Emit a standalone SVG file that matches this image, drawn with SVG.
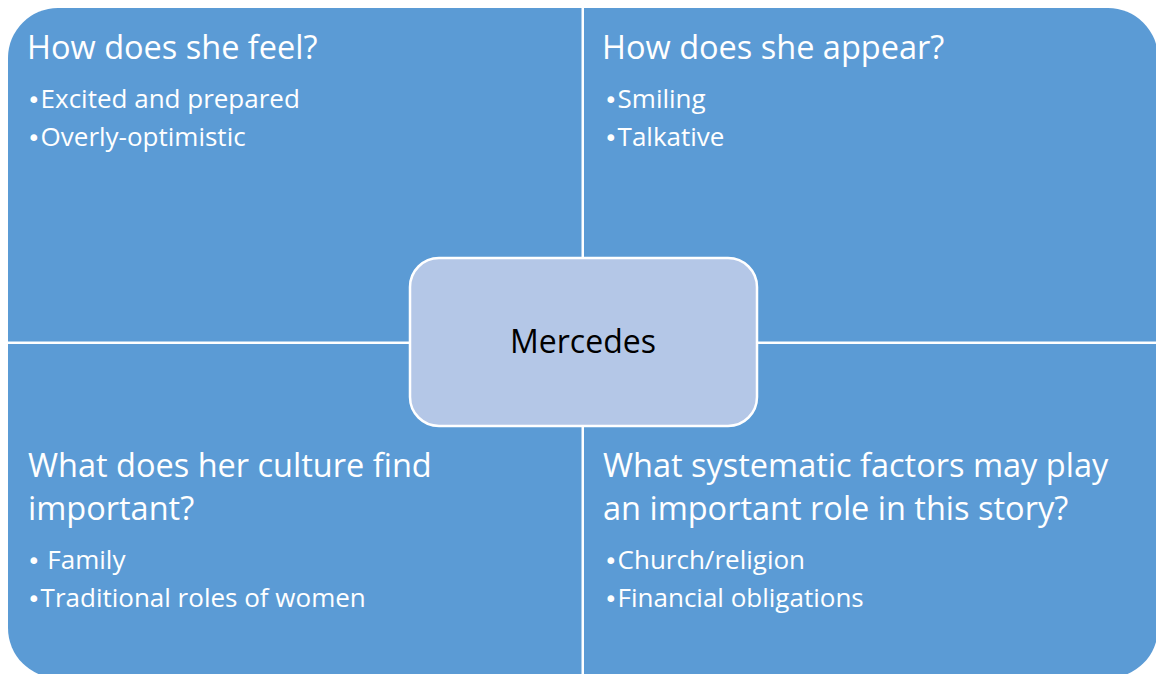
<svg xmlns="http://www.w3.org/2000/svg" width="1156" height="674" viewBox="0 0 1156 674">
  <defs>
    <!-- outer rounded outline shared by the four quadrants -->
    <clipPath id="outline">
      <rect x="8" y="8" width="1150" height="670" rx="50" ry="50"/>
    </clipPath>
    <style>
      .quad { fill: #5b9bd5; }
      .head { font-family: "Open Sans", "Liberation Sans", sans-serif; font-size: 32.5px; fill: #ffffff; }
      .item { font-family: "Open Sans", "Liberation Sans", sans-serif; font-size: 26px; fill: #ffffff; }
      .dot { font-family: "DejaVu Sans", sans-serif; font-size: 23px; }
      .hub { fill: #b4c7e7; stroke: #ffffff; stroke-width: 2.5; }
      .hub-label { font-family: "Open Sans", "Liberation Sans", sans-serif; font-size: 32px; fill: #000000; text-anchor: middle; }
    </style>
  </defs>

  <rect x="0" y="0" width="1156" height="674" fill="#ffffff"/>

  <g clip-path="url(#outline)">
    <g id="feel">
      <rect class="quad" x="8" y="8" width="573.5" height="333.5"/>
      <text class="head" x="27" y="59">How does she feel?</text>
      <text class="item" x="27" y="108"><tspan class="dot">•</tspan>Excited and prepared</text>
      <text class="item" x="27" y="146"><tspan class="dot">•</tspan>Overly-optimistic</text>
    </g>

    <g id="appear">
      <rect class="quad" x="584" y="8" width="574" height="333.5"/>
      <text class="head" x="602" y="59">How does she appear?</text>
      <text class="item" x="604" y="108"><tspan class="dot">•</tspan>Smiling</text>
      <text class="item" x="604" y="146"><tspan class="dot">•</tspan>Talkative</text>
    </g>

    <g id="culture">
      <rect class="quad" x="8" y="344" width="573.5" height="334"/>
      <text class="head" x="28" y="477">What does her culture find</text>
      <text class="head" x="28" y="520">important?</text>
      <text class="item" x="27" y="569"><tspan class="dot">•</tspan> Family</text>
      <text class="item" x="27" y="607"><tspan class="dot">•</tspan>Traditional roles of women</text>
    </g>

    <g id="factors">
      <rect class="quad" x="584" y="344" width="574" height="334"/>
      <text class="head" x="603" y="477">What systematic factors may play</text>
      <text class="head" x="603" y="520">an important role in this story?</text>
      <text class="item" x="604" y="569"><tspan class="dot">•</tspan>Church/religion</text>
      <text class="item" x="604" y="607"><tspan class="dot">•</tspan>Financial obligations</text>
    </g>
  </g>

  <g id="mercedes">
    <rect class="hub" x="410" y="258" width="347" height="168" rx="29" ry="29"/>
    <text class="hub-label" x="583" y="353">Mercedes</text>
  </g>
</svg>
